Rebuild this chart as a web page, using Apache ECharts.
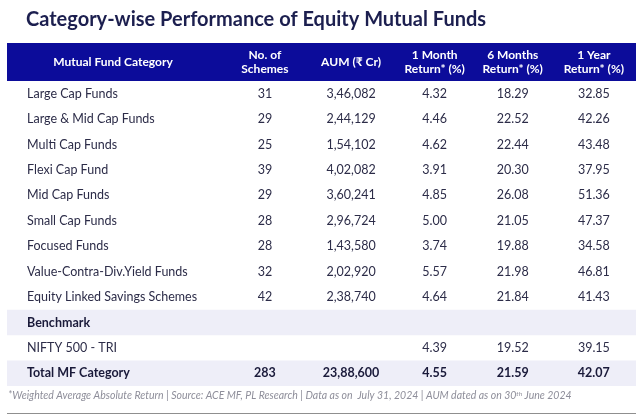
<!DOCTYPE html>
<html><head><meta charset="utf-8">
<script src="https://cdn.jsdelivr.net/npm/echarts@6/dist/echarts.min.js"></script>
<style>html,body{margin:0;padding:0;background:#fff}#c{width:640px;height:415px}</style>
</head><body><div id="c"></div>
<script>
// ---- data ----
const headers = ['Mutual Fund Category', 'No. of\nSchemes', 'AUM (₹ Cr)', '1 Month\nReturn* (%)', '6 Months\nReturn* (%)', '1 Year\nReturn* (%)'];
const categories = ['Large Cap Funds', 'Large & Mid Cap Funds', 'Multi Cap Funds', 'Flexi Cap Fund', 'Mid Cap Funds', 'Small Cap Funds', 'Focused Funds', 'Value-Contra-Div.Yield Funds', 'Equity Linked Savings Schemes'];
const schemes = [31, 29, 25, 39, 29, 28, 28, 32, 42];
const aum = [346082, 244129, 154102, 402082, 360241, 296724, 143580, 202920, 238740];
const ret1m = [4.32, 4.46, 4.62, 3.91, 4.85, 5.00, 3.74, 5.57, 4.64];
const ret6m = [18.29, 22.52, 22.44, 20.30, 26.08, 21.05, 19.88, 21.98, 21.84];
const ret1y = [32.85, 42.26, 43.48, 37.95, 51.36, 47.37, 34.58, 46.81, 41.43];
const benchmarkLabel = 'Benchmark';
const benchmarkName = 'NIFTY 500 - TRI';
const benchmarkReturns = [4.39, 19.52, 39.15];
const totalLabel = 'Total MF Category';
const totalSchemes = 283;
const totalAum = 2388600;
const totalReturns = [4.55, 21.59, 42.07];
const titleText = 'Category-wise Performance of Equity Mutual Funds';
const footnote = '*Weighted Average Absolute Return | Source: ACE MF, PL Research | Data as on  July 31, 2024 | AUM dated as on 30';
const footnoteEnd = ' June 2024';

// ---- layout ----
const COL_X = [0.0318, 0.410, 0.547, 0.680, 0.804, 0.933];
const HEADER_COL0_X = 0.1685;
const HEADER_ROWS = 1.5;
const FONT = 'Lato, "Noto Sans", sans-serif';
const TEXT_COLOR = '#2c2c48';
const BOLD_COLOR = '#1a1a3a';

function inr(n) {
  const s = String(n);
  if (s.length <= 3) return s;
  const last3 = s.slice(-3);
  const rest = s.slice(0, -3).replace(/\B(?=(\d{2})+(?!\d))/g, ',');
  return rest + ',' + last3;
}
const f2 = v => v.toFixed(2);

const cells = [];
headers.forEach((h, i) => cells.push({x: i === 0 ? HEADER_COL0_X : COL_X[i], y: -HEADER_ROWS / 2, text: h, kind: 'header', align: 'center'}));
categories.forEach((c, r) => {
  const row = [c, String(schemes[r]), inr(aum[r]), f2(ret1m[r]), f2(ret6m[r]), f2(ret1y[r])];
  row.forEach((t, i) => cells.push({x: COL_X[i], y: r + 0.5, text: t, kind: 'body', align: i === 0 ? 'left' : 'center'}));
});
let r = categories.length;
cells.push({x: COL_X[0], y: r + 0.5, text: benchmarkLabel, kind: 'bold', align: 'left'});
r++;
cells.push({x: COL_X[0], y: r + 0.5, text: benchmarkName, kind: 'body', align: 'left'});
benchmarkReturns.forEach((v, i) => cells.push({x: COL_X[3 + i], y: r + 0.5, text: f2(v), kind: 'body', align: 'center'}));
r++;
[totalLabel, String(totalSchemes), inr(totalAum)].concat(totalReturns.map(f2)).forEach((t, i) =>
  cells.push({x: COL_X[i], y: r + 0.5, text: t, kind: 'bold', align: i === 0 ? 'left' : 'center'}));
const lastRow = r + 1;

const bands = [
  {y0: -HEADER_ROWS, y1: 0, color: '#0c0c9a'},
  {y0: categories.length, y1: categories.length + 1, color: '#eeeef8'},
  {y0: categories.length + 2, y1: categories.length + 3, color: '#eeeef8'}
];

const chart = echarts.init(document.getElementById('c'), null, {renderer: 'canvas'});
chart.setOption({
  animation: false,
  backgroundColor: '#ffffff',
  title: {
    text: titleText, left: 21, top: 5,
    textStyle: {fontFamily: FONT, fontSize: 20, fontWeight: 'bold', color: '#1c1f4f'}
  },
  grid: {left: 7, right: 4, top: 43, bottom: 29},
  xAxis: {type: 'value', min: 0, max: 1, show: false},
  yAxis: {type: 'value', min: -HEADER_ROWS, max: lastRow, inverse: true, show: false},
  series: [
    {
      type: 'custom',
      silent: true,
      data: bands.map(b => [b.y0, b.y1]),
      renderItem: (params, api) => {
        const b = bands[params.dataIndex];
        const p0 = api.coord([0, api.value(0)]);
        const p1 = api.coord([1, api.value(1)]);
        return {type: 'rect', shape: {x: p0[0], y: p0[1], width: p1[0] - p0[0], height: p1[1] - p0[1]}, style: {fill: b.color}};
      }
    },
    {
      type: 'custom',
      silent: true,
      data: cells.map(c => [c.x, c.y]),
      renderItem: (params, api) => {
        const c = cells[params.dataIndex];
        const p = api.coord([api.value(0), api.value(1)]);
        const isHeader = c.kind === 'header';
        return {
          type: 'text', x: p[0], y: p[1],
          style: {
            text: c.text,
            align: c.align, verticalAlign: 'middle',
            fontFamily: FONT,
            fontSize: isHeader ? 12 : 12.5,
            fontWeight: (isHeader || c.kind === 'bold') ? 'bold' : 'normal',
            lineHeight: 14,
            fill: isHeader ? '#ffffff' : (c.kind === 'bold' ? BOLD_COLOR : TEXT_COLOR)
          }
        };
      }
    }
  ],
  graphic: [
    {
      type: 'text', left: 8, top: 390,
      style: {
        text: '{a|' + footnote + '}{s|th}{a|' + footnoteEnd + '}',
        rich: {
          a: {fontFamily: FONT, fontStyle: 'italic', fontSize: 10.5, fill: '#8e8e9a', color: '#8e8e9a'},
          s: {fontFamily: FONT, fontStyle: 'italic', fontSize: 6.5, fill: '#8e8e9a', color: '#8e8e9a', verticalAlign: 'top', padding: [0, 0, 5, 0]}
        }
      }
    },
    {
      type: 'rect', left: 7, top: 413,
      shape: {width: 629, height: 1},
      style: {fill: '#8f8f8f'}
    }
  ]
});
</script></body></html>
